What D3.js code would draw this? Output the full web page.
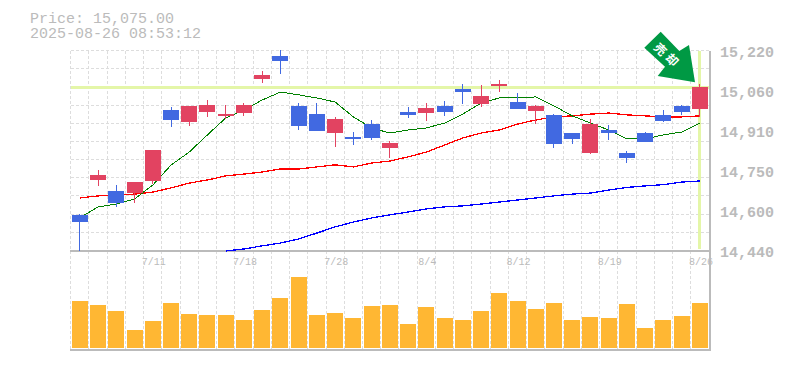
<!DOCTYPE html>
<html>
<head>
<meta charset="utf-8">
<script src="https://cdn.jsdelivr.net/npm/d3@7"></script>
<style>
    body { margin: 0; background: #fff; }
    svg { display: block; }
    text { font-family: "Liberation Mono", "DejaVu Sans Mono", monospace; fill: #bbb; }
    .crisp { shape-rendering: crispEdges; }
</style>
</head>
<body>
<div class="container"></div>
<script>
const WIDTH = 785;
const HEIGHT = 370;

const LEFT = 70.7;
const RIGHT = 709;
const PRICE_TOP = 50.5;
const PRICE_BOTTOM = 250.5;
const VOLUME_TOP = 252;
const VOLUME_BOTTOM = 348;

var titleLines = ["Price: 15,075.00", "2025-08-26 08:53:12"];
var signalText = ["売", "却"];
var currentPrice = 15075;

var dates = ["7/7", "7/8", "7/9", "7/10", "7/11", "7/14", "7/15", "7/16", "7/17", "7/18", "7/22", "7/23",
    "7/24", "7/25", "7/28", "7/29", "7/30", "7/31", "8/1", "8/4", "8/5", "8/6", "8/7", "8/8", "8/12",
    "8/13", "8/14", "8/15", "8/18", "8/19", "8/20", "8/21", "8/22", "8/25", "8/26"];
var dateTicks = ["7/11", "7/18", "7/28", "8/4", "8/12", "8/19", "8/26"];
var priceTicks = [15220, 15064, 14908, 14752, 14596, 14440];

var opens = [14579, 14715, 14672, 14664, 14711, 14988, 14941, 14980, 14965, 14976, 15109, 15199,
    15004, 14972, 14898, 14883, 14933, 14840, 14980, 14976, 15004, 15070, 15011, 15082, 15019,
    14984, 14969, 14898, 14820, 14910, 14820, 14898, 14969, 15004, 14992];
var highs = [14582, 14754, 14695, 14707, 14832, 15000, 15004, 15027, 15007, 15015, 15140, 15222,
    15015, 15015, 14961, 14902, 14949, 14867, 15000, 15015, 15023, 15089, 15085, 15105, 15054,
    15007, 14972, 14898, 14953, 14930, 14828, 14902, 14988, 15007, 15089];
var lows = [14439, 14693, 14611, 14626, 14699, 14922, 14926, 14961, 14953, 14965, 15093, 15128,
    14910, 14906, 14844, 14851, 14871, 14801, 14957, 14945, 14965, 15011, 15000, 15058, 14992,
    14933, 14840, 14855, 14816, 14871, 14781, 14863, 14941, 14969, 14961];
var closes = [14552, 14735, 14625, 14707, 14832, 14949, 15004, 15007, 14972, 15007, 15125, 15179,
    14926, 14906, 14953, 14875, 14879, 14859, 14969, 14996, 14980, 15058, 15043, 15089, 14992,
    15004, 14855, 14875, 14933, 14898, 14801, 14863, 14945, 14980, 15078];

var maShort = [14567, 14610, 14621, 14641, 14695, 14773, 14824, 14891, 14957, 14988, 15027, 15058,
    15047, 15035, 15019, 14961, 14918, 14898, 14910, 14918, 14937, 14972, 15015, 15035, 15035,
    15039, 15004, 14965, 14937, 14910, 14875, 14875, 14891, 14902, 14937];
var maMiddle = [14645, 14653, 14657, 14660, 14668, 14684, 14703, 14715, 14731, 14738, 14746, 14758,
    14758, 14766, 14774, 14766, 14781, 14789, 14805, 14824, 14851, 14879, 14898, 14910, 14933,
    14949, 14961, 14965, 14972, 14976, 14969, 14965, 14961, 14961, 14965];
var maLong = [null, null, null, null, null, null, null, null, 14438, 14446, 14458, 14469,
    14485, 14508, 14532, 14551, 14567, 14579, 14590, 14602, 14610, 14614, 14621, 14629, 14637,
    14645, 14653, 14660, 14664, 14676, 14686, 14692, 14697, 14707, 14711];

var volumes = [470, 430, 370, 180, 270, 450, 340, 330, 330, 280, 380, 500, 710, 330, 350, 300, 420, 430,
    240, 410, 300, 280, 370, 550, 470, 390, 450, 280, 310, 300, 440, 200, 280, 320, 450];

var xScale = d3.scaleBand()
    .domain(dates)
    .range([LEFT, RIGHT])
    .paddingInner(0.123)
    .paddingOuter(0.0615);

var yScale = d3.scaleLinear()
    .domain([14440, 15220])
    .range([PRICE_BOTTOM, PRICE_TOP]);

var volumeScale = d3.scaleLinear()
    .domain([0, 960])
    .range([VOLUME_BOTTOM, VOLUME_TOP]);

var getCenter = function (date) {
    return xScale(date) + xScale.bandwidth() / 2;
};

var translate = function (x, y) {
    return "translate(" + x + "," + y + ")";
};

var svg = d3.select('.container').append('svg')
    .attr('width', WIDTH)
    .attr('height', HEIGHT);

// grid
var grid = svg.append('g').attr('class', 'crisp')
    .attr('stroke', '#ddd')
    .attr('stroke-dasharray', '3,2');

grid.selectAll('.v').data(d3.range(0, dates.length))
    .enter().append('line')
    .attr('x1', function (i) { return LEFT + i * xScale.step(); })
    .attr('x2', function (i) { return LEFT + i * xScale.step(); })
    .attr('y1', PRICE_TOP)
    .attr('y2', VOLUME_BOTTOM + 1);

grid.selectAll('.h').data(d3.range(0, 11))
    .enter().append('line')
    .attr('x1', LEFT)
    .attr('x2', RIGHT)
    .attr('y1', function (i) { return PRICE_TOP + i * (PRICE_BOTTOM - PRICE_TOP) / 11; })
    .attr('y2', function (i) { return PRICE_TOP + i * (PRICE_BOTTOM - PRICE_TOP) / 11; });

// frame lines
var frame = svg.append('g').attr('class', 'crisp').attr('stroke', '#bbb').attr('stroke-width', 2);
frame.append('line').attr('x1', LEFT - 1).attr('x2', RIGHT + 2).attr('y1', PRICE_BOTTOM).attr('y2', PRICE_BOTTOM);
frame.append('line').attr('x1', LEFT - 1).attr('x2', RIGHT + 2).attr('y1', VOLUME_BOTTOM + 2).attr('y2', VOLUME_BOTTOM + 2);
frame.append('line').attr('x1', RIGHT + 1).attr('x2', RIGHT + 1).attr('y1', PRICE_TOP).attr('y2', VOLUME_BOTTOM + 3);

// current price and current date highlight
var highlight = svg.append('g').attr('class', 'crisp')
    .attr('stroke', '#e4f6a8')
    .attr('stroke-width', 3);
highlight.append('line')
    .attr('x1', LEFT).attr('x2', RIGHT)
    .attr('y1', yScale(currentPrice)).attr('y2', yScale(currentPrice));
highlight.append('line')
    .attr('x1', getCenter(dates[dates.length - 1])).attr('x2', getCenter(dates[dates.length - 1]))
    .attr('y1', PRICE_TOP).attr('y2', PRICE_BOTTOM - 2);

// moving averages
var maLine = d3.line()
    .defined(function (d) { return d !== null; })
    .x(function (d, i) { return getCenter(dates[i]); })
    .y(function (d) { return yScale(d); });

[[maLong, '#0000ff', 1.3], [maMiddle, '#ff0000', 1.3], [maShort, '#008000', 1]].forEach(function (ma) {
    svg.append('path')
        .attr('class', 'crisp')
        .attr('d', maLine(ma[0]))
        .attr('fill', 'none')
        .attr('stroke', ma[1])
        .attr('stroke-width', ma[2]);
});

// candles
var candleColor = function (i) {
    return closes[i] >= opens[i] ? '#e24361' : '#4169e1';
};

var candles = svg.append('g').attr('class', 'crisp').selectAll('g').data(dates)
    .enter().append('g');

candles.append('line')
    .attr('x1', function (d) { return getCenter(d); })
    .attr('x2', function (d) { return getCenter(d); })
    .attr('y1', function (d, i) { return yScale(highs[i]); })
    .attr('y2', function (d, i) { return yScale(lows[i]); })
    .attr('stroke', function (d, i) { return candleColor(i); })
    .attr('stroke-width', 1);

candles.append('rect')
    .attr('x', function (d) { return xScale(d); })
    .attr('width', xScale.bandwidth())
    .attr('y', function (d, i) { return yScale(Math.max(opens[i], closes[i])); })
    .attr('height', function (d, i) { return Math.abs(yScale(opens[i]) - yScale(closes[i])); })
    .attr('fill', function (d, i) { return candleColor(i); });

// volume
svg.append('g').attr('class', 'crisp').selectAll('rect').data(volumes)
    .enter().append('rect')
    .attr('x', function (d, i) { return xScale(dates[i]); })
    .attr('width', xScale.bandwidth())
    .attr('y', function (d) { return volumeScale(d); })
    .attr('height', function (d) { return VOLUME_BOTTOM - volumeScale(d); })
    .attr('fill', '#ffb733');

// axes
var priceAxis = d3.axisRight(yScale)
    .tickValues(priceTicks)
    .tickSize(0)
    .tickPadding(10)
    .tickFormat(function (d) { return d3.format(',')(Math.round(d / 10) * 10); });

var gPrice = svg.append('g').attr('transform', translate(RIGHT + 1, 1.5)).call(priceAxis);
gPrice.select('.domain').remove();
gPrice.selectAll('text').style('font-size', '15px').style('font-weight', 'bold').attr('fill', '#bbb');

var dateAxis = d3.axisBottom(xScale)
    .tickValues(dateTicks)
    .tickSize(0)
    .tickPadding(7);

var gDate = svg.append('g').attr('transform', translate(1, PRICE_BOTTOM)).call(dateAxis);
gDate.select('.domain').remove();
gDate.selectAll('text').style('font-size', '10px').attr('fill', '#bbb');

// title, one text block with two lines
svg.append('text')
    .attr('y', 23)
    .style('font-size', '15px')
    .selectAll('tspan').data(titleLines)
    .enter().append('tspan')
    .attr('x', 30)
    .attr('dy', function (d, i) { return i === 0 ? 0 : 15; })
    .text(function (d) { return d; });

// sell signal arrow, pointing at the last candle
var arrow = svg.append('g');
arrow.append('polygon')
    .attr('points', '660.7,31.7 644.3,47.7 665,66.7 657.7,76 695,82.3 689,45 679.3,51')
    .attr('fill', '#009944');

arrow.selectAll('text').data(signalText)
    .enter().append('text')
    .attr('transform', function (d, i) {
        return translate(660.7 + i * 11.6, 49 + i * 10.7) + ' rotate(45)';
    })
    .attr('text-anchor', 'middle')
    .attr('dy', '0.4em')
    .style('font-family', '"Noto Sans CJK JP"')
    .style('font-size', '12px')
    .style('font-weight', 'bold')
    .style('fill', '#fff')
    .text(function (d) { return d; });
</script>
</body>
</html>
